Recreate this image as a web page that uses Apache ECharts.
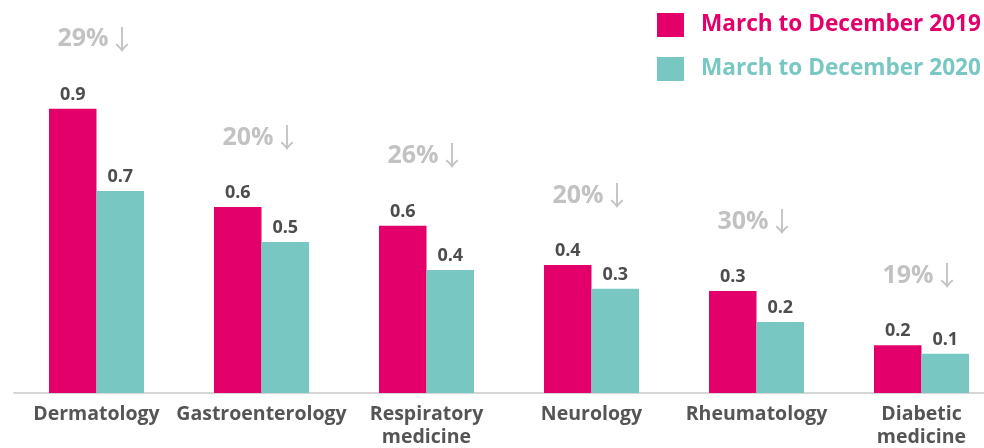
<!DOCTYPE html>
<html>
<head>
<meta charset="utf-8">
<script src="https://cdn.jsdelivr.net/npm/echarts@6/dist/echarts.min.js"></script>
<style>html,body{margin:0;padding:0;background:#fff;}#c{width:984px;height:448px;}</style>
</head>
<body>
<div id="c"></div>
<script>
const categories = ['Dermatology', 'Gastroenterology', 'Respiratory\nmedicine', 'Neurology', 'Rheumatology', 'Diabetic\nmedicine'];
const seriesNames = ['March to December 2019', 'March to December 2020'];
const values2019 = [0.944, 0.618, 0.556, 0.425, 0.339, 0.159];
const values2020 = [0.671, 0.502, 0.409, 0.346, 0.236, 0.130];
const dropLabels = ['29%', '20%', '26%', '20%', '30%', '19%'];

const PINK = '#E4006B', TEAL = '#79C7C3';
const FONT = 'Open Sans';

const chart = echarts.init(document.getElementById('c'), null, {renderer: 'canvas'});
const barLabel = {
  show: true, position: 'top', distance: 5,
  color: '#4d4d4d', fontFamily: FONT, fontWeight: 'bold', fontSize: 18,
  formatter: p => p.value.toFixed(1)
};
chart.setOption({
  animation: false,
  textStyle: {fontFamily: FONT},
  grid: {left: 14, width: 990, top: 92, bottom: 55, containLabel: false, outerBoundsMode: 'none'},
  legend: {
    orient: 'vertical', left: 657, top: 13, padding: 0,
    itemWidth: 27, itemHeight: 24, itemGap: 20,
    icon: 'rect',
    data: [
      {name: seriesNames[0], textStyle: {color: PINK}},
      {name: seriesNames[1], textStyle: {color: TEAL}}
    ],
    textStyle: {fontFamily: FONT, fontWeight: 'bold', fontSize: 22.6, padding: [0, 0, 0, 12]}
  },
  xAxis: {
    type: 'category', data: categories,
    axisLine: {show: true, lineStyle: {color: '#c8c8c8', width: 1.5}},
    axisTick: {show: false},
    axisLabel: {color: '#555', fontFamily: FONT, fontWeight: 'bold', fontSize: 19.5, lineHeight: 23, margin: 10, interval: 0}
  },
  yAxis: {type: 'value', min: 0, max: 1, show: false, splitLine: {show: false}},
  series: [
    {name: seriesNames[0], type: 'bar', data: values2019, barWidth: 47.5, barGap: '0%',
     itemStyle: {color: PINK}, label: barLabel},
    {name: seriesNames[1], type: 'bar', data: values2020, barWidth: 47.5,
     itemStyle: {color: TEAL}, label: barLabel},
    {name: 'drop', type: 'scatter', data: values2019, symbolSize: 0, silent: true,
     label: {
       show: true, position: 'top', distance: 56, offset: [0, 0],
       formatter: p => '{n|' + dropLabels[p.dataIndex] + '}{a|↓}',
       rich: {
         n: {color: '#b3b3b3', fontFamily: FONT, fontWeight: 'bold', fontSize: 25},
         a: {color: '#b3b3b3', fontFamily: 'Noto Sans CJK SC', fontWeight: 'normal', fontSize: 27}
       }
     }}
  ]
});
</script>
</body>
</html>
